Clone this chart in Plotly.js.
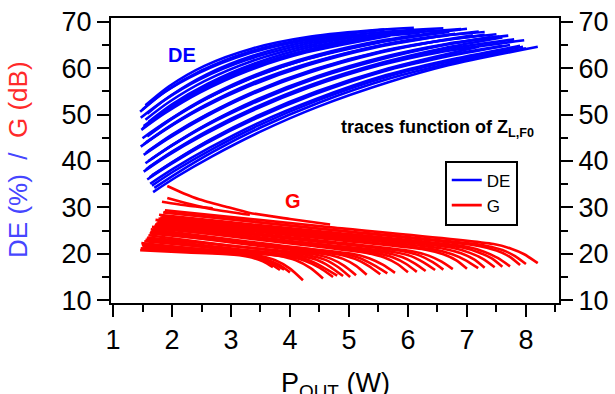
<!DOCTYPE html>
<html><head><meta charset="utf-8">
<script src="https://cdn.plot.ly/plotly-3.0.1.min.js"></script>
<style>html,body{margin:0;padding:0;background:#fff}#chart{width:615px;height:394px}</style>
</head><body><div id="chart"></div>
<script>
// Drain efficiency (DE, %) traces vs Pout (W)
const deX = [
 [1.55,1.95,2.55,3.35,4.35,5.55,6.1],
 [1.5,1.9,2.5,3.3,4.3,5.6],
 [1.46,1.86,2.46,3.26,4.26,5.0],
 [1.58,1.98,2.58,3.38,4.38,5.58,6.6],
 [1.47,1.87,2.47,3.27,4.27,5.3],
 [1.55,1.95,2.55,3.35,4.35,5.55,6.3],
 [1.6,2.0,2.6,3.4,4.4,5.6,6.9],
 [1.52,1.92,2.52,3.32,4.32,5.52,6.0],
 [1.5,1.9,2.5,3.3,4.3,5.5,6.2],
 [1.48,1.88,2.48,3.28,4.28,5.7],
 [1.62,2.02,2.62,3.42,4.42,5.62,7.0],
 [1.58,1.98,2.58,3.38,4.38,5.58,6.7],
 [1.5,1.9,2.5,3.3,4.3,5.5,6.4],
 [1.56,1.96,2.56,3.36,4.36,5.56,6.5,7.3],
 [1.52,1.92,2.52,3.32,4.32,5.52,6.52,7.2],
 [1.47,1.87,2.47,3.27,4.27,5.47,6.8],
 [1.6,2.0,2.6,3.4,4.4,5.6,6.6,7.5],
 [1.56,1.96,2.56,3.36,4.36,5.56,6.56,7.3],
 [1.52,1.92,2.52,3.32,4.32,5.52,6.52,7.1],
 [1.65,2.05,2.65,3.45,4.45,5.65,6.65,7.7],
 [1.6,2.0,2.6,3.4,4.4,5.6,6.6,7.55],
 [1.55,1.95,2.55,3.35,4.35,5.55,6.55,7.4],
 [1.6,2.0,2.6,3.4,4.4,5.6,6.6,7.6],
 [1.56,1.96,2.56,3.36,4.36,5.56,6.56,7.8],
 [1.52,1.92,2.52,3.32,4.32,5.52,6.52,7.97],
 [1.66,2.06,2.66,3.46,4.46,5.66,7.2],
 [1.62,2.02,2.62,3.42,4.42,5.62,6.62,7.6],
 [1.58,1.98,2.58,3.38,4.38,5.58,6.58,7.73],
 [1.63,2.03,2.63,3.43,4.43,5.63,6.63,7.9],
 [1.7,2.1,2.7,3.5,4.5,5.7,6.7,8.0],
 [1.66,2.06,2.66,3.46,4.46,5.66,6.66,7.95],
 [1.68,2.08,2.68,3.48,4.48,5.68,6.68,8.2]
];
const deY = [
 [52,56.1,60.5,64.2,66.8,68.3,68.7],
 [51.1,55.1,59.5,63.5,66.3,68.3],
 [50.6,54.7,59.0,63.0,66.0,67.3],
 [50.2,54.1,58.6,62.7,65.9,67.8,68.6],
 [49.3,53.1,57.6,61.8,65.2,67.4],
 [48.9,52.7,57.2,61.5,65.0,67.4,68.2],
 [48.4,52.2,56.6,61.0,64.7,67.1,68.4],
 [47.5,51.2,55.7,60.2,64.0,67.0,67.8],
 [47.0,50.8,55.2,59.8,63.7,66.8,67.6],
 [46.7,50.3,54.8,59.4,63.4,67.0],
 [45.8,49.4,53.9,58.6,62.7,66.1,68.5],
 [45.3,48.9,53.4,58.1,62.3,65.8,67.8],
 [44.9,48.4,52.9,57.6,62.0,65.5,67.4],
 [44.0,47.5,52.0,56.8,61.2,65.0,66.9,67.8],
 [43.6,47.1,51.6,56.4,60.9,64.8,66.8,67.9],
 [43.1,46.6,51.1,55.9,60.5,64.5,67.4],
 [42.2,45.7,50.1,55.0,59.7,63.8,66.0,67.3],
 [41.8,45.2,49.7,54.6,59.4,63.6,65.9,67.2],
 [41.3,44.7,49.2,54.2,59.0,63.3,65.9,67.1],
 [40.4,43.8,48.3,53.3,58.2,62.6,65.2,67.0],
 [40.0,43.4,47.9,52.8,57.8,62.3,65.0,66.8],
 [39.5,42.9,47.4,52.3,57.4,61.9,64.8,66.7],
 [38.6,42.0,46.5,51.5,56.6,61.3,64.3,66.6],
 [38.2,41.6,46.0,51.1,56.2,61.0,63.9,66.2],
 [37.7,41.1,45.5,50.6,55.8,60.6,63.4,66.0],
 [36.9,40.2,44.7,49.8,55.0,59.9,64.6],
 [36.5,39.8,44.3,49.4,54.6,59.6,62.6,64.8],
 [36.0,39.3,43.8,48.9,54.2,59.3,62.3,65.0],
 [35.1,38.4,42.8,48.0,53.3,58.5,61.6,64.8],
 [34.2,37.5,42.0,47.2,52.6,57.8,61.0,64.3],
 [34.7,38.0,42.4,47.6,53.0,58.2,61.3,64.6],
 [33.3,36.6,41.0,46.2,51.7,57.0,60.6,64.6]
];
// Gain (G, dB) traces vs Pout (W)
const gX = [
 [1.92,2.2,2.47,2.9,3.32,4.0,4.68],
 [1.92,2.3,2.73,3.32],
 [1.83,2.25,2.69],
 [1.46,2.25,3.05,3.35,3.55,3.71],
 [1.5,2.3,3.15,3.45,3.65,3.83],
 [1.49,2.35,3.2,3.5,3.7,3.9],
 [1.48,2.45,3.45,3.75,4.0,4.22],
 [1.55,2.65,3.8,4.1,4.35,4.56],
 [1.52,2.7,3.95,4.25,4.5,4.73],
 [1.57,2.75,4.0,4.3,4.55,4.8],
 [1.6,2.9,4.3,4.6,4.82,5.02],
 [1.58,3.0,4.4,4.7,4.92,5.12],
 [1.65,3.2,4.8,5.1,5.33,5.53],
 [1.64,3.25,4.9,5.2,5.43,5.65],
 [1.62,3.3,5.05,5.35,5.58,5.78],
 [1.7,3.55,5.45,5.75,5.97,6.15],
 [1.71,3.65,5.6,5.9,6.12,6.3],
 [1.68,3.7,5.75,6.05,6.27,6.46],
 [1.75,3.9,6.05,6.35,6.57,6.76],
 [1.72,4.1,6.45,6.75,6.98,7.19],
 [1.77,4.2,6.6,6.9,7.12,7.3],
 [1.8,4.3,6.75,7.05,7.27,7.47],
 [1.78,4.4,7.0,7.3,7.52,7.73],
 [1.85,4.6,7.3,7.6,7.8,8.0],
 [1.88,4.7,7.45,7.75,7.97,8.2],
 [1.47,2.4,3.3,3.6,3.82,4.0],
 [1.53,2.8,4.15,4.45,4.68,4.9],
 [1.63,3.1,4.6,4.9,5.12,5.3],
 [1.66,3.5,5.3,5.6,5.82,6.0],
 [1.73,3.8,5.9,6.2,6.42,6.6],
 [1.76,4.0,6.3,6.6,6.82,7.0],
 [1.82,4.35,6.9,7.2,7.42,7.6],
 [1.86,4.5,7.2,7.5,7.72,7.9]
];
const gY = [
 [34.6,33.0,31.7,30.2,28.8,27.5,26.3],
 [32.0,30.7,29.5,28.4],
 [31.2,30.4,29.8],
 [20.8,20.3,19.8,19.2,18.3,17.1],
 [21.6,20.8,19.9,19.1,18.0,16.5],
 [21.9,20.8,19.8,19.0,18.0,16.6],
 [22.3,21.0,19.6,18.6,16.8,14.3],
 [23.0,21.3,19.6,18.6,16.9,14.7],
 [22.0,20.8,19.4,18.5,17.0,15.0],
 [23.3,21.5,19.7,18.7,17.2,15.3],
 [24.0,21.9,19.7,18.7,17.1,15.0],
 [23.5,21.7,19.9,18.9,17.4,15.4],
 [25.0,22.5,19.9,18.9,17.4,15.6],
 [25.3,22.7,20.0,19.0,17.5,15.8],
 [24.4,22.3,20.0,19.0,17.6,15.9],
 [26.0,23.2,20.2,19.2,17.8,16.1],
 [26.3,23.3,20.3,19.3,17.9,16.3],
 [25.5,23.0,20.4,19.5,18.1,16.5],
 [26.8,23.7,20.6,19.6,18.3,16.7],
 [27.3,24.1,20.9,19.9,18.6,16.9],
 [27.6,24.3,21.1,20.1,18.8,17.0],
 [27.8,24.5,21.3,20.2,18.9,17.1],
 [28.4,25.0,21.5,20.4,19.1,17.3],
 [28.9,25.3,21.8,20.8,19.6,17.8],
 [29.4,25.7,22.1,21.1,19.9,18.0],
 [21.2,20.5,19.7,18.8,17.6,16.0],
 [22.7,21.2,19.6,18.7,17.2,15.2],
 [24.7,22.3,19.9,18.9,17.4,15.5],
 [25.8,23.0,20.2,19.2,17.8,16.0],
 [26.5,23.5,20.6,19.6,18.2,16.6],
 [27.0,24.0,20.9,19.9,18.6,16.8],
 [28.1,24.8,21.4,20.3,19.0,17.2],
 [29.0,25.4,21.7,20.7,19.4,17.6]
];
const xTicks = [1,2,3,4,5,6,7,8];
const yTicks = [10,20,30,40,50,60,70];

const BLUE = '#0000ff', RED = '#ff0000';
const FONT = 'Liberation Sans, Arial, sans-serif';
const traces = [];
deX.forEach((xs, i) => traces.push({
  x: xs, y: deY[i], type: 'scatter', mode: 'lines',
  line: {color: BLUE, width: 2.6, shape: 'spline', smoothing: 0.8},
  name: 'DE', legendgroup: 'DE', showlegend: i === 0, hoverinfo: 'skip'
}));
gX.forEach((xs, i) => traces.push({
  x: xs, y: gY[i], type: 'scatter', mode: 'lines',
  line: {color: RED, width: 2.6, shape: 'spline', smoothing: 0.6},
  name: 'G', legendgroup: 'G', showlegend: i === 0, hoverinfo: 'skip'
}));
// invisible trace to anchor the right-hand axis
traces.push({x: [1], y: [10], yaxis: 'y2', mode: 'markers', marker: {opacity: 0}, showlegend: false, hoverinfo: 'skip'});

const yCommon = {
  range: [9.4, 70.8], tickvals: yTicks, ticktext: yTicks.map(String),
  showgrid: false, zeroline: false, showline: true, linecolor: '#000', linewidth: 2,
  ticks: 'outside', ticklen: 12, tickwidth: 2, tickcolor: '#000',
  tickfont: {family: FONT, size: 27, color: '#000'},
  minor: {dtick: 5, ticks: 'outside', ticklen: 7, tickwidth: 2, tickcolor: '#000', showgrid: false}
};

const layout = {
  width: 615, height: 394,
  margin: {l: 111, r: 56, t: 18, b: 91},
  paper_bgcolor: '#fff', plot_bgcolor: '#fff',
  font: {family: FONT, color: '#000'},
  showlegend: true,
  legend: {x: 0.745, y: 0.50, xanchor: 'left', yanchor: 'top',
    bordercolor: '#000', borderwidth: 2, bgcolor: '#fff',
    font: {family: FONT, size: 17, color: '#000'}, tracegroupgap: 0},
  xaxis: {
    range: [0.966, 8.56], tickvals: xTicks, ticktext: xTicks.map(String),
    showgrid: false, zeroline: false, showline: true, linecolor: '#000', linewidth: 2, mirror: true,
    ticks: 'outside', ticklen: 12, tickwidth: 2, tickcolor: '#000',
    tickfont: {family: FONT, size: 27, color: '#000'},
    minor: {dtick: 0.5, ticks: 'outside', ticklen: 7, tickwidth: 2, tickcolor: '#000', showgrid: false}
  },
  yaxis: Object.assign({}, yCommon, {side: 'left'}),
  yaxis2: Object.assign({}, yCommon, {side: 'right', overlaying: 'y'}),
  annotations: [
    {xref: 'paper', yref: 'paper', x: -0.2076, y: 0.502, xanchor: 'center', yanchor: 'middle',
     textangle: -90, showarrow: false,
     text: '<span style="color:#4646ff">DE (%)  /  </span><span style="color:#ff2a2a">G (dB)</span>',
     font: {family: FONT, size: 26}},
    {xref: 'paper', yref: 'paper', x: 0.5, y: -0.222, xanchor: 'center', yanchor: 'top',
     showarrow: false, text: 'P<sub>OUT</sub> (W)', font: {family: FONT, size: 27, color: '#000'}},
    {xref: 'paper', yref: 'paper', x: 0.158, y: 0.870, xanchor: 'center', yanchor: 'middle',
     showarrow: false, text: '<b>DE</b>', font: {family: FONT, size: 20, color: BLUE}},
    {xref: 'paper', yref: 'paper', x: 0.406, y: 0.358, xanchor: 'center', yanchor: 'middle',
     showarrow: false, text: '<b>G</b>', font: {family: FONT, size: 20, color: RED}},
    {xref: 'paper', yref: 'paper', x: 0.51, y: 0.614, xanchor: 'left', yanchor: 'middle',
     showarrow: false, text: '<b>traces function of Z<sub>L,F0</sub></b>', font: {family: FONT, size: 18, color: '#000'}}
  ]
};
Plotly.newPlot('chart', traces, layout, {displayModeBar: false, staticPlot: true});
</script></body></html>
